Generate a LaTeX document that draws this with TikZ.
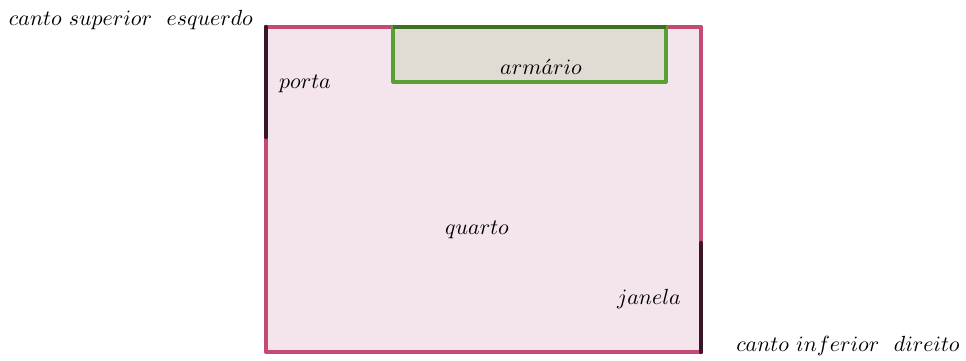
\documentclass[tikz,border=0pt]{standalone}
\usepackage{tikz}
\usepackage{amssymb}
\definecolor{wallpink}{RGB}{196,74,116}
\definecolor{floorpink}{RGB}{244,228,235}
\definecolor{doordark}{RGB}{58,22,40}
\definecolor{boxgreen}{RGB}{88,160,52}
\definecolor{boxfill}{RGB}{224,220,212}
\tikzset{
	label_text/.style = {
		inner sep=0pt,
		text centered,
		font=\fontsize{11.2}{13}\selectfont
	},
	wall/.style = {
		draw=wallpink,
		fill=floorpink,
		line width=2.2pt,
		line join=round
	},
	opening/.style = {
		draw=doordark,
		line width=2.2pt,
		line cap=round
	},
	wardrobe/.style = {
		draw=boxgreen,
		fill=boxfill,
		line width=1.6pt,
		line join=round
	},
}

\begin{document}
\begin{tikzpicture}[x=0.5pt,y=0.5pt]
\useasboundingbox (0,0) rectangle (966,360);
% quarto
\draw [wall] (266,8) rectangle (701,333);
% armario
\draw [wardrobe] (393,278) rectangle (666,333);
\draw [draw=black!30!boxgreen, line width=1.6pt] (393,333) -- (666,333);
% porta e janela
\coordinate (door_top) at (266,333);
\coordinate (door_bottom) at (266,223);
\coordinate (window_top) at (701,117);
\coordinate (window_bottom) at (701,8);
\draw [opening] (door_top) -- (door_bottom);
\draw [opening] (window_top) -- (window_bottom);
% textos
\node [label_text] (upper_left) at (131,340) {$canto\ superior\ \ esquerdo$};
\node [label_text] (lower_right) at (848,14) {$canto\ in f erior\ \ direito$};
\node [label_text] (door_label) at (305,276) {$porta$};
\node [label_text] (box_label) at (541,293) {$arm\acute{a}rio$};
\node [label_text] (room_label) at (477,130) {$quarto$};
\node [label_text] (window_label) at (649,61) {$janela$};
\end{tikzpicture}
\end{document}
